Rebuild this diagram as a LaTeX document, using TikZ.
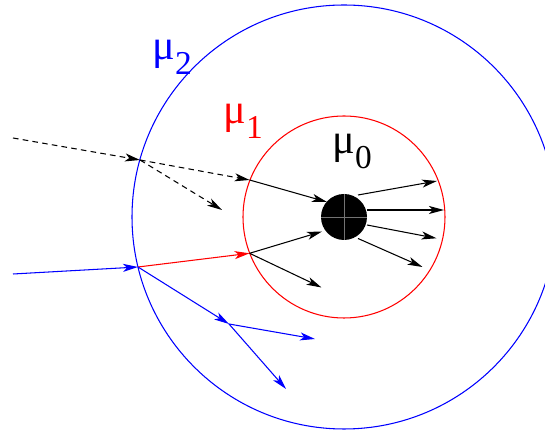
\documentclass[tikz,border=0pt]{standalone}
\usepackage{fontspec}
\newfontfamily\labfont{Liberation Serif}
\usetikzlibrary{arrows.meta}
\newcommand{\mulab}[1]{{\fontsize{24}{26}\selectfont μ}\raisebox{-0.42em}{#1}}

\begin{document}
\begin{tikzpicture}[x=0.02cm,y=-0.02cm,line width=0.6pt,>=Stealth,
  ray/.style={line width=0.6pt,-{Stealth[length=3mm,width=1.6mm,inset=0.8mm]}},
  ghost/.style={ray,dash pattern=on 3.2pt off 2.4pt},
  lab/.style={anchor=base west,inner sep=0pt,font=\labfont\fontsize{19}{22}\selectfont}]
\useasboundingbox (0,0) rectangle (545,431);
\clip (0,0) rectangle (545,431);
% ---------- shells and core ----------
\coordinate (c) at (344,217);
\draw[blue] (c) circle (212);
\draw[red] (c) circle (101);
\fill (c) circle (23);
\draw[black!55,line width=0.4pt] (344,194) -- (344,240) (321,217) -- (367,217);
\node[lab,text=blue] (mu2) at (152,60) {\mulab{2}};
\node[lab,text=red] (mu1) at (223,124) {\mulab{1}};
\node[lab] (mu0) at (332,154) {\mulab{0}};
% ---------- dashed ray ----------
\coordinate (in1) at (13,138);
\coordinate (hitA) at (140,160);
\coordinate (hitB) at (249.6,180);
\coordinate (refl) at (222,210);
\coordinate (dotA) at (327,202);
\draw[ghost] (in1) -- (hitA);
\draw[ghost] (hitA) -- (hitB);
\draw[ghost] (hitA) -- (refl);
\draw[ray] (hitB) -- (dotA);
% ---------- solid ray ----------
\coordinate (in2) at (13,274);
\coordinate (hitC) at (138,267);
\coordinate (hitD) at (249.6,253.3);
\coordinate (dotB) at (322,231.5);
\coordinate (outD) at (321.5,287.5);
\coordinate (split) at (229,324);
\coordinate (outS1) at (315,339);
\coordinate (outS2) at (286,389);
\draw[ray,blue] (in2) -- (hitC);
\draw[ray,red] (hitC) -- (hitD);
\draw[ray] (hitD) -- (dotB);
\draw[ray] (hitD) -- (outD);
\draw[ray,blue] (hitC) -- (split);
\draw[ray,blue] (split) -- (outS1);
\draw[ray,blue] (split) -- (outS2);
% ---------- emission from the core ----------
\coordinate (e1) at (358,195);   \coordinate (f1) at (437,181);
\coordinate (e2) at (367,210);   \coordinate (f2) at (444,210);
\coordinate (e3) at (367,225);   \coordinate (f3) at (436.5,238.3);
\coordinate (e4) at (358,238.5); \coordinate (f4) at (422.5,267);
\foreach \i in {1,...,4}{ \draw[ray] (e\i) -- (f\i); }
\end{tikzpicture}
\end{document}
